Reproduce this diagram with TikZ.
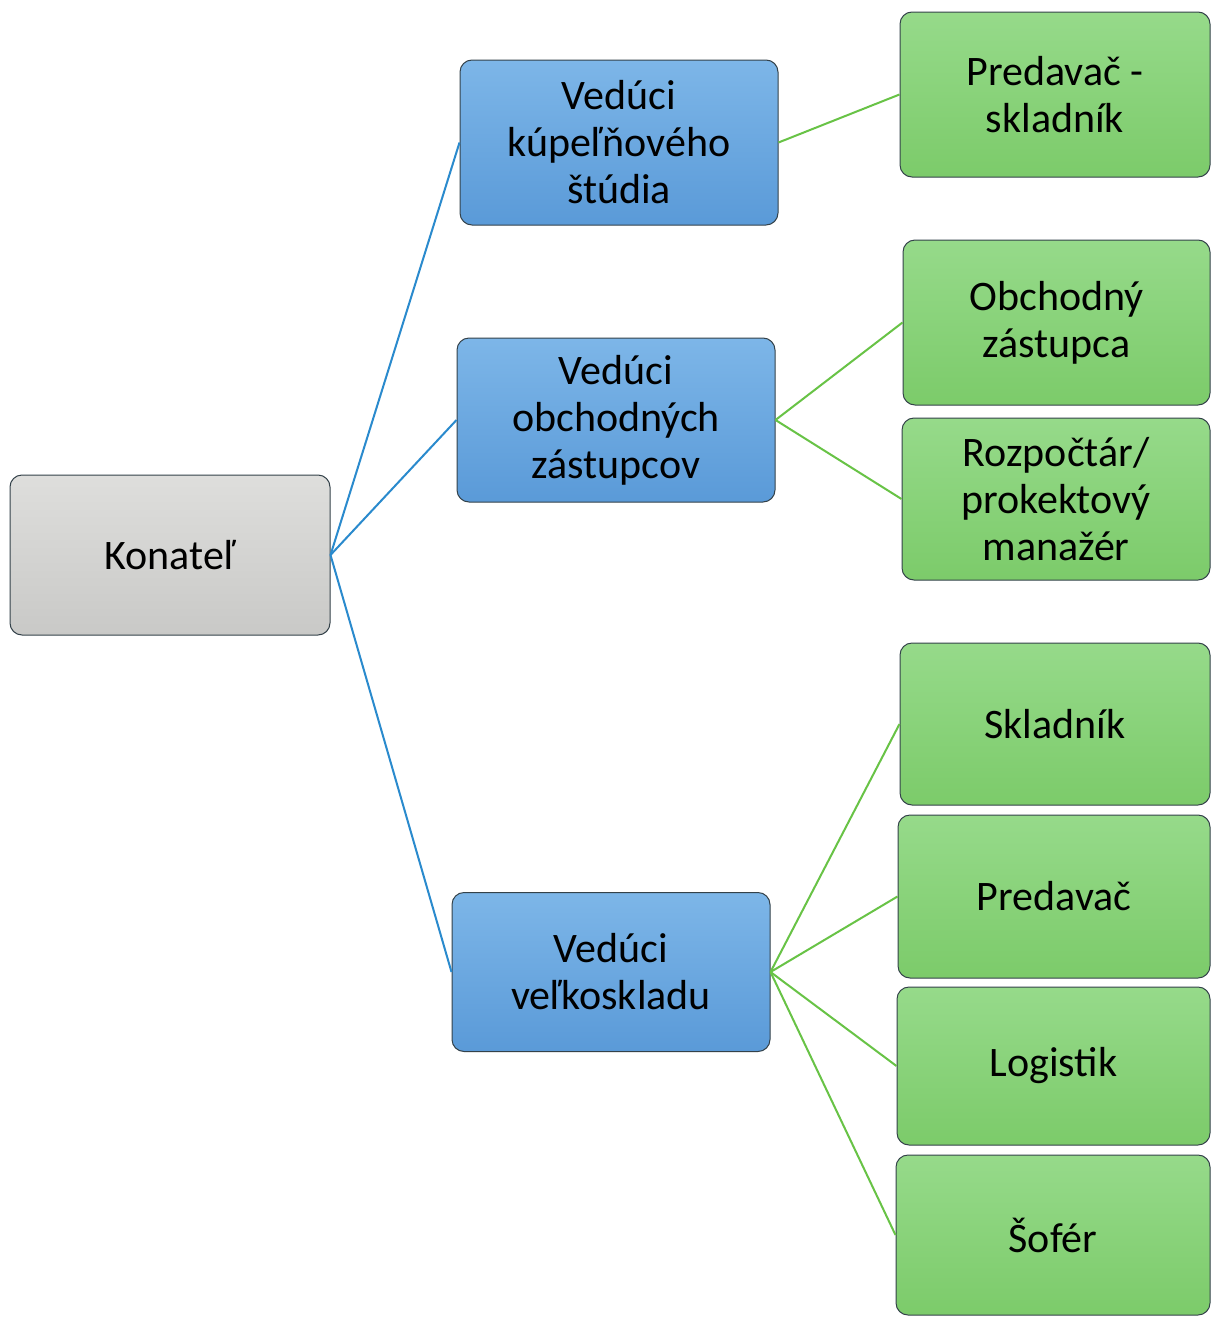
\documentclass[tikz,border=0pt]{standalone}
\usepackage{fontspec}
\setmainfont{Carlito}
\definecolor{bluetop}{HTML}{7DB6E8}
\definecolor{bluebot}{HTML}{5A9AD8}
\definecolor{greentop}{HTML}{96DA8A}
\definecolor{greenbot}{HTML}{7CCB6A}
\definecolor{graytop}{HTML}{DEDEDC}
\definecolor{graybot}{HTML}{C9C9C7}
\definecolor{blueline}{HTML}{2A8ACD}
\definecolor{greenline}{HTML}{68C346}
\definecolor{edgecol}{HTML}{34424A}
\begin{document}
\begin{tikzpicture}[x=1pt,y=-1pt,
  box/.style={draw=edgecol, line width=1pt, rounded corners=12pt, align=center,
    font=\fontsize{42}{47}\selectfont, inner sep=0pt, text=black},
  graybox/.style={box, top color=graytop, bottom color=graybot},
  bluebox/.style={box, top color=bluetop, bottom color=bluebot},
  greenbox/.style={box, top color=greentop, bottom color=greenbot},
  bl/.style={draw=blueline, line width=2pt},
  gl/.style={draw=greenline, line width=2pt}]
\useasboundingbox[fill=white] (0,0) rectangle (1212,1317);
\node[graybox, minimum width=320pt, minimum height=160pt] (k) at (170,555) {Konateľ};
\node[bluebox, minimum width=318pt, minimum height=165pt] (b1) at (619,142.5) {Vedúci\\kúpeľňového\\štúdia};
\node[bluebox, minimum width=318pt, minimum height=164pt] (b2) at (616,420) {Vedúci\\obchodných\\zástupcov};
\node[bluebox, minimum width=318pt, minimum height=159pt] (b3) at (611,972) {Vedúci\\veľkoskladu};
\node[greenbox, minimum width=310pt, minimum height=165pt] (g1) at (1055,94.5) {Predavač -\\skladník};
\node[greenbox, minimum width=307pt, minimum height=165pt] (g2) at (1056.5,322.5) {Obchodný\\zástupca};
\node[greenbox, minimum width=308pt, minimum height=162pt] (g3) at (1056,499) {Rozpočtár/\\prokektový\\manažér};
\node[greenbox, minimum width=310pt, minimum height=162pt] (g4) at (1055,724) {Skladník};
\node[greenbox, minimum width=312pt, minimum height=163pt] (g5) at (1054,896.5) {Predavač};
\node[greenbox, minimum width=313pt, minimum height=158pt] (g6) at (1053.5,1066) {Logistik};
\node[greenbox, minimum width=314pt, minimum height=160pt] (g7) at (1053,1235) {Šofér};
\draw[bl] (k.east) -- (b1.west);
\draw[bl] (k.east) -- (b2.west);
\draw[bl] (k.east) -- (b3.west);
\draw[gl] (b1.east) -- (g1.west);
\draw[gl] (b2.east) -- (g2.west);
\draw[gl] (b2.east) -- (g3.west);
\draw[gl] (b3.east) -- (g4.west);
\draw[gl] (b3.east) -- (g5.west);
\draw[gl] (b3.east) -- (g6.west);
\draw[gl] (b3.east) -- (g7.west);
\end{tikzpicture}
\end{document}
